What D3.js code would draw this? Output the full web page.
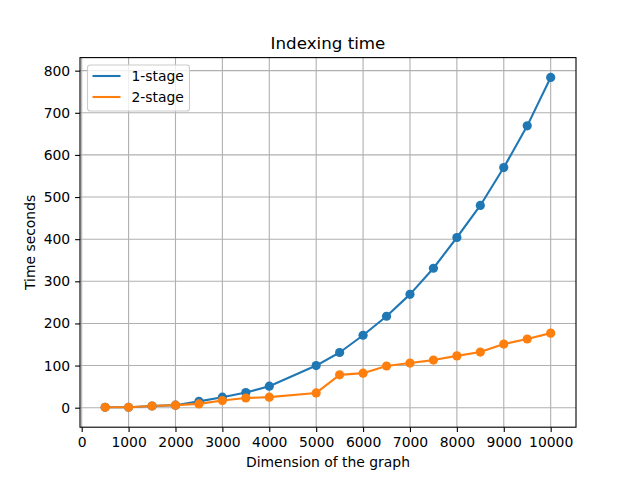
<!DOCTYPE html>
<html>
<head>
<meta charset="utf-8">
<script src="https://cdn.jsdelivr.net/npm/d3@7"></script>
<style>
  body { margin: 0; background: #fff; }
  svg { font-family: "DejaVu Sans", sans-serif; }
</style>
</head>
<body>
<div id="chart"></div>
<script>
var dims = [500, 1000, 1500, 2000, 2500, 3000, 3500, 4000, 5000, 5500, 6000, 6500, 7000, 7500, 8000, 8500, 9000, 9500, 10000];
var oneStage = [1, 1, 4, 6, 15, 25, 36, 51, 100, 131, 172, 217, 269, 331, 404, 480, 570, 669, 784];
var twoStage = [1, 1, 4, 6, 9, 17, 23, 25, 35, 78, 82, 99, 106, 113, 123, 132, 151, 163, 177];
var xTicks = [0, 1000, 2000, 3000, 4000, 5000, 6000, 7000, 8000, 9000, 10000];
var yTicks = [0, 100, 200, 300, 400, 500, 600, 700, 800];

var series = [
  { name: '1-stage', values: oneStage, color: '#1f77b4' },
  { name: '2-stage', values: twoStage, color: '#ff7f0e' }
];

var W = 640, H = 480;
// plot area (matplotlib default subplot box)
var pL = 80, pR = 576, pT = 57.6, pB = 427.2;

var x = d3.scaleLinear().domain([-36, 10540]).range([pL, pR]);
var y = d3.scaleLinear().domain([-46.3, 831]).range([pB, pT]);

var svg = d3.select('#chart').append('svg')
  .attr('width', W).attr('height', H);

// grid
var grid = svg.append('g');
grid.selectAll('line.gx').data(xTicks).enter().append('line')
  .attr('x1', function(d) { return x(d); }).attr('x2', function(d) { return x(d); })
  .attr('y1', pT).attr('y2', pB)
  .attr('stroke', '#b0b0b0').attr('stroke-width', 1.1);
grid.selectAll('line.gy').data(yTicks).enter().append('line')
  .attr('y1', function(d) { return y(d); }).attr('y2', function(d) { return y(d); })
  .attr('x1', pL).attr('x2', pR)
  .attr('stroke', '#b0b0b0').attr('stroke-width', 1.1);

// axes
var xAxis = d3.axisBottom(x).tickValues(xTicks).tickSize(4.9).tickPadding(4.9).tickFormat(d3.format('d'));
var yAxis = d3.axisLeft(y).tickValues(yTicks).tickSize(4.9).tickPadding(4.9).tickFormat(d3.format('d'));

var gx = svg.append('g').attr('transform', 'translate(0,' + pB + ')').call(xAxis);
var gy = svg.append('g').attr('transform', 'translate(' + pL + ',0)').call(yAxis);
[gx, gy].forEach(function(g) {
  g.select('.domain').remove();
  g.selectAll('.tick line').attr('stroke', '#000').attr('stroke-width', 1.1);
  g.selectAll('.tick text').attr('fill', '#000').style('font-size', '13.9px')
    .style('font-family', '"DejaVu Sans", sans-serif');
});

// lines and points
var line = d3.line()
  .x(function(d, i) { return x(dims[i]); })
  .y(function(d) { return y(d); });

var plot = svg.append('g');
series.forEach(function(s) {
  plot.append('path')
    .datum(s.values)
    .attr('d', line)
    .attr('fill', 'none')
    .attr('stroke', s.color)
    .attr('stroke-width', 2.1)
    .attr('stroke-linejoin', 'round')
    .attr('stroke-linecap', 'square');
});
series.forEach(function(s) {
  plot.selectAll(null).data(s.values).enter().append('circle')
    .attr('cx', function(d, i) { return x(dims[i]); })
    .attr('cy', function(d) { return y(d); })
    .attr('r', 4.6)
    .attr('fill', s.color);
});

// frame
svg.append('rect')
  .attr('x', pL).attr('y', pT)
  .attr('width', pR - pL).attr('height', pB - pT)
  .attr('fill', 'none').attr('stroke', '#000').attr('stroke-width', 1.1);

// title and labels
svg.append('text')
  .attr('x', (pL + pR) / 2).attr('y', 49)
  .attr('text-anchor', 'middle')
  .style('font-size', '16.7px')
  .text('Indexing time');

svg.append('text')
  .attr('x', (pL + pR) / 2).attr('y', 467)
  .attr('text-anchor', 'middle')
  .style('font-size', '13.9px')
  .text('Dimension of the graph');

svg.append('text')
  .attr('transform', 'translate(35,' + ((pT + pB) / 2) + ') rotate(-90)')
  .attr('text-anchor', 'middle')
  .style('font-size', '13.9px')
  .text('Time seconds');

// legend
var legend = svg.append('g').attr('class', 'legend');
legend.append('rect')
  .attr('x', 87.5).attr('y', 65).attr('width', 102).attr('height', 46)
  .attr('rx', 2.8)
  .attr('fill', '#fff').attr('fill-opacity', 0.8)
  .attr('stroke', '#cccccc').attr('stroke-width', 1.1);
var items = legend.selectAll('g.item').data(series).enter().append('g')
  .attr('transform', function(d, i) { return 'translate(0,' + (76 + i * 21) + ')'; });
items.append('line')
  .attr('x1', 92.5).attr('x2', 120.5)
  .attr('stroke', function(d) { return d.color; })
  .attr('stroke-width', 2.1);
items.append('text')
  .attr('x', 131.5).attr('y', 5)
  .style('font-size', '13.9px')
  .text(function(d) { return d.name; });
</script>
</body>
</html>
